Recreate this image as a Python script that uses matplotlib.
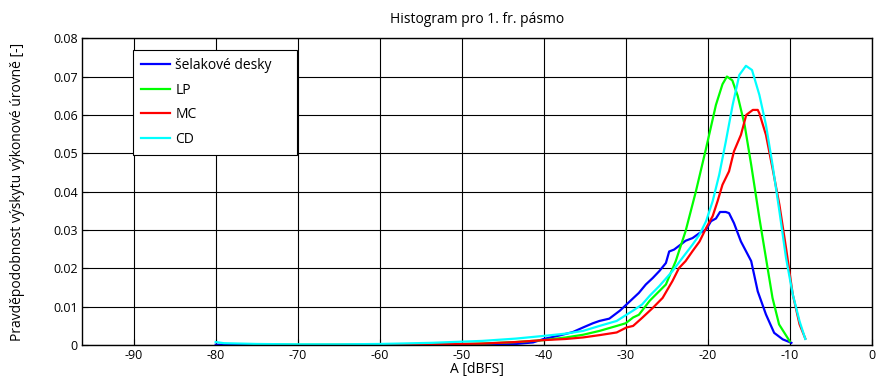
import matplotlib.pyplot as plt
import numpy as np

plt.rcParams['font.family'] = ['Open Sans', 'DejaVu Sans']
plt.rcParams['font.size'] = 9
plt.rcParams['axes.unicode_minus'] = False

# křivky (x v dBFS, y pravděpodobnost)
x_selak = [-80, -70, -60, -55, -50, -47.5, -45, -43.4, -41.3, -40, -38.1, -36.45, -35.2, -34.0, -33.2,
           -32.0, -30.7, -29.9, -29.1, -28.4, -27.55, -26.7, -25.9, -25.1, -24.7, -24.1, -23.3, -22.7,
           -21.85, -21.0, -20.2, -19.6, -19.0, -18.5, -17.8, -17.4, -16.8, -15.95, -14.7, -13.9, -12.9,
           -11.9, -10.85, -9.8]
y_selak = [0.0001, 0.0, 0.0, 0.0, 0.0001, 0.0001, 0.0002, 0.0003, 0.0007, 0.0016, 0.0025, 0.0034, 0.0046,
           0.0057, 0.0063, 0.0069, 0.009, 0.0106, 0.0122, 0.0136, 0.0158, 0.0175, 0.0193, 0.0214, 0.0244,
           0.0249, 0.0262, 0.0272, 0.0279, 0.0292, 0.0301, 0.0323, 0.033, 0.0347, 0.0347, 0.0344, 0.0318,
           0.027, 0.0219, 0.014, 0.008, 0.0032, 0.0015, 0.0006]

x_lp = [-75, -70, -60, -55, -50, -47.5, -43.4, -40, -37.3, -35.2, -33.2, -31.1, -30, -29.1, -28.4, -27.06,
        -25.1, -23.9, -22.7, -21.45, -20.2, -19.0, -18.2, -17.66, -17.0, -16.35, -15.5, -14.7, -13.7, -12.9,
        -12.1, -11.3, -10.0]
y_lp = [0.0002, 0.0001, 0.0001, 0.0002, 0.0003, 0.0004, 0.0008, 0.0013, 0.002, 0.0027, 0.0037, 0.005,
        0.0057, 0.0072, 0.0079, 0.0116, 0.0158, 0.0219, 0.0297, 0.040, 0.0513, 0.0626, 0.068, 0.0700, 0.069,
        0.065, 0.0574, 0.047, 0.0331, 0.0227, 0.0123, 0.0054, 0.001]

x_mc = [-75, -70, -60, -55, -50, -47.5, -43.4, -40, -37.3, -35.2, -33.2, -31.1, -29.9, -29.1, -28.0, -26.7,
        -25.5, -24.3, -23.5, -22.7, -21.85, -21.0, -20.2, -19.4, -18.8, -18.2, -17.4, -16.8, -15.95, -15.3,
        -14.5, -13.9, -13.7, -12.9, -12.1, -11.26, -10.45, -9.63, -8.8, -8.1]
y_mc = [0.0001, 0.0, 0.0001, 0.0002, 0.0003, 0.0004, 0.0008, 0.0013, 0.0016, 0.002, 0.0026, 0.0033, 0.0046,
        0.005, 0.0071, 0.0097, 0.0123, 0.0167, 0.0201, 0.0219, 0.0245, 0.027, 0.0305, 0.0336, 0.0375, 0.0418,
        0.0453, 0.0505, 0.0548, 0.060, 0.0613, 0.0613, 0.0604, 0.0548, 0.0461, 0.0366, 0.0253, 0.0132,
        0.0054, 0.0017]

x_cd = [-80, -79, -75, -70, -65, -60, -57.7, -53.6, -50, -47.5, -43.4, -40, -37.3, -35.2, -33.2, -31.1,
        -29.1, -28.0, -27.06, -25.9, -24.3, -23.1, -21.85, -21.0, -20.2, -19.4, -18.6, -17.8, -16.96, -16.15,
        -15.34, -14.6, -13.7, -12.9, -12.1, -11.26, -10.45, -9.63, -8.8, -8.1]
y_cd = [0.0008, 0.0005, 0.0003, 0.0002, 0.0002, 0.0003, 0.0004, 0.0006, 0.0009, 0.0011, 0.0017, 0.0024,
        0.003, 0.0037, 0.005, 0.0063, 0.009, 0.0106, 0.0129, 0.0154, 0.0193, 0.0227, 0.0262, 0.0288, 0.0323,
        0.0375, 0.0444, 0.053, 0.0626, 0.0704, 0.0728, 0.0717, 0.0652, 0.0574, 0.047, 0.0349, 0.0227, 0.0132,
        0.0062, 0.0016]

fig = plt.figure(figsize=(8.77, 3.78), dpi=100)
ax = fig.add_axes([0.0935, 0.087, 0.9005, 0.812])

ax.plot(x_selak, y_selak, color='#0000ff', lw=1.6, label='šelakové desky')
ax.plot(x_lp, y_lp, color='#00ff00', lw=1.6, label='LP')
ax.plot(x_mc, y_mc, color='#ff0000', lw=1.6, label='MC')
ax.plot(x_cd, y_cd, color='#00ffff', lw=1.6, label='CD')

ax.set_xlim(-96.3, 0)
ax.set_ylim(0, 0.08)
ax.set_xticks(np.arange(-90, 1, 10))
ax.set_yticks(np.arange(0, 0.081, 0.01))
ax.set_yticklabels(['0', '0.01', '0.02', '0.03', '0.04', '0.05', '0.06', '0.07', '0.08'])
ax.tick_params(direction='in', length=4, width=0.8, pad=3)
ax.grid(True, color='black', lw=0.8, linestyle='-')
for s in ax.spines.values():
    s.set_linewidth(1.0)

ax.set_title('Histogram pro 1. fr. pásmo', fontsize=10, pad=11)
ax.set_xlabel('A [dBFS]', fontsize=10, labelpad=0)
ax.set_ylabel('Pravděpodobnost výskytu výkonové úrovně [-]', fontsize=10, labelpad=20)

# legenda roztažená na šířku jako v originále
leg = ax.legend(loc='upper left', bbox_to_anchor=(0.0646, 0.0, 0.2076, 0.961), mode='expand',
                borderaxespad=0, fancybox=False, framealpha=1, edgecolor='black',
                handlelength=2.1, handletextpad=0.4, borderpad=0.55, labelspacing=0.7,
                prop={'size': 10})
leg.get_frame().set_linewidth(0.8)
leg.get_frame().set_boxstyle('square', pad=0)

fig.savefig('out.png', dpi=100)
